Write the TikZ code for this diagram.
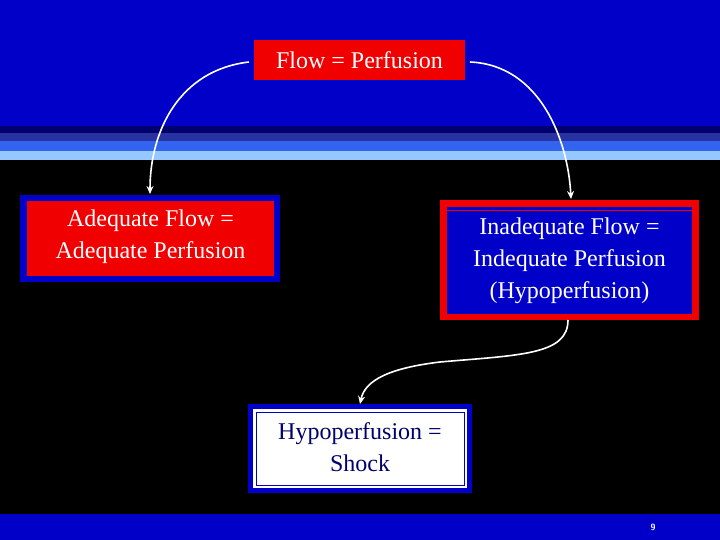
\documentclass[tikz,border=0pt]{standalone}
\usepackage{fontspec}
\setmainfont{Liberation Serif}
\usetikzlibrary{arrows.meta}
\definecolor{bbl}{RGB}{0,0,200}
\definecolor{nav}{RGB}{0,0,110}
\definecolor{mbl}{RGB}{40,50,160}
\definecolor{sbl}{RGB}{50,100,240}
\definecolor{lbl}{RGB}{150,200,255}
\definecolor{rd}{RGB}{240,0,0}
\begin{document}
\begin{tikzpicture}[x=1pt,y=-1pt,
  txt/.style={align=center,font=\fontsize{24}{32}\selectfont,inner sep=0},
  arr/.style={draw=white,line width=1.6pt,-{Stealth[length=8pt,width=7pt]}}]
\useasboundingbox (0,0) rectangle (720,540);
\fill[black] (0,0) rectangle (720,540);
\fill[bbl] (0,0) rectangle (720,126);
\fill[nav] (0,126) rectangle (720,133);
\fill[mbl] (0,133) rectangle (720,141);
\fill[sbl] (0,141) rectangle (720,151);
\fill[lbl] (0,151) rectangle (720,160);
\fill[bbl] (0,514) rectangle (720,540);
% top box
\fill[rd] (254,40) rectangle (465,80);
\node[txt,text=white] (top) at (359.5,60) {Flow = Perfusion};
\coordinate (tl) at (249,62);
\coordinate (tr) at (470,62);
% adequate
\fill[bbl] (20,195) rectangle (280,282);
\fill[rd] (27,201) rectangle (274,276);
\node[txt,text=white] (ad) at (150.5,237) {Adequate Flow =\\Adequate Perfusion};
\coordinate (adt) at (150,194);
% inadequate
\fill[rd] (440,200) rectangle (699,320);
\fill[bbl] (447,207) rectangle (692,314);
\draw[rd,line width=0.8pt] (447,210) -- (692,210);
\node[txt,text=white] (in) at (569.5,261) {Inadequate Flow =\\Indequate Perfusion\\(Hypoperfusion)};
\coordinate (int) at (571,199);
\coordinate (inb) at (568,320);
% shock
\fill[bbl] (248,404) rectangle (472,493);
\fill[white] (253,409) rectangle (467,488);
\draw[bbl,line width=1pt] (256,412) rectangle (464,485);
\node[txt,text=nav] (sh) at (360,447) {Hypoperfusion =\\Shock};
\coordinate (sht) at (360,404);
\node[font=\sffamily\bfseries\small,text=white] (pg) at (653,527) {9};
% arrows
\draw[arr] (tl) .. controls (180,70) and (150,130) .. (adt);
\draw[arr] (tr) .. controls (540,65) and (568,140) .. (int);
\draw[arr] (inb) .. controls (568,355) and (520,355) .. (440,362) .. controls (390,368) and (365,380) .. (sht);
\end{tikzpicture}
\end{document}
